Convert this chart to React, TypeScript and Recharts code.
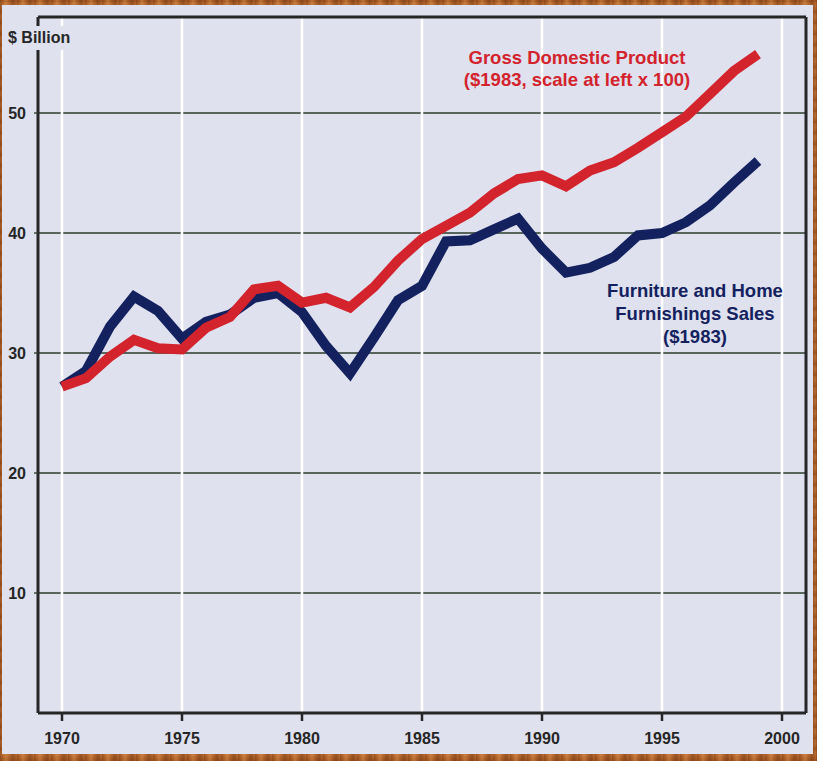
import React from "react";
import {
  LineChart,
  CartesianGrid,
  Line,
  XAxis,
  YAxis,
  ReferenceLine,
} from "recharts";

const years = [
  1970, 1971, 1972, 1973, 1974, 1975, 1976, 1977, 1978, 1979,
  1980, 1981, 1982, 1983, 1984, 1985, 1986, 1987, 1988, 1989,
  1990, 1991, 1992, 1993, 1994, 1995, 1996, 1997, 1998, 1999,
];
const furniture = [
  27.2, 28.5, 32.2, 34.7, 33.5, 31.2, 32.6, 33.2, 34.6, 35.0,
  33.4, 30.6, 28.3, 31.3, 34.4, 35.6, 39.3, 39.4, 40.3, 41.2,
  38.7, 36.7, 37.1, 38.0, 39.8, 40.0, 40.9, 42.3, 44.2, 46.0,
];
const gdp = [
  27.2, 27.9, 29.7, 31.1, 30.4, 30.3, 32.1, 33.0, 35.3, 35.6,
  34.2, 34.6, 33.8, 35.5, 37.7, 39.5, 40.6, 41.7, 43.3, 44.5,
  44.8, 43.9, 45.2, 45.9, 47.1, 48.4, 49.7, 51.6, 53.5, 54.9,
];
const xTicks = [1970, 1975, 1980, 1985, 1990, 1995, 2000];
const yTicks = [10, 20, 30, 40, 50];

const data = years.map((year, i) => ({ year, furniture: furniture[i], gdp: gdp[i] }));

const FONT = '"Liberation Sans", Arial, Helvetica, sans-serif';
const PANEL = "#dfe1ee";
const AXIS = "#262626";
const RED = "#d3232d";
const NAVY = "#14215f";

const wood =
  "repeating-linear-gradient(90deg, rgba(90,40,10,0.35) 0px, rgba(0,0,0,0) 3px, rgba(255,190,120,0.25) 6px, rgba(0,0,0,0) 9px, rgba(70,30,5,0.3) 13px, rgba(0,0,0,0) 17px), " +
  "repeating-linear-gradient(0deg, rgba(120,50,10,0.3) 0px, rgba(0,0,0,0) 4px, rgba(230,150,80,0.2) 7px, rgba(0,0,0,0) 11px), #b2642b";

export default function App() {
  const tickStyle = { fill: AXIS, fontSize: 16, fontWeight: 700, fontFamily: FONT };
  return (
    <div style={{ position: "absolute", left: 0, top: 0, width: 817, height: 761, background: wood, overflow: "hidden" }}>
      <div style={{ position: "absolute", left: 2, top: 5, width: 811, height: 749, background: PANEL }} />
      <div style={{ position: "absolute", left: 0, top: 0 }}>
        <LineChart width={817} height={761} data={data} margin={{ top: 17, right: 11, left: 0, bottom: 0 }}>
          <CartesianGrid vertical={false} stroke="#2b3b2b" strokeWidth={1.3} strokeOpacity={1} />
          {xTicks.map((t) => (
            <ReferenceLine key={t} x={t} stroke="#ffffff" strokeWidth={2.5} />
          ))}
          <ReferenceLine y={58} stroke={AXIS} strokeWidth={3} />
          <ReferenceLine x={2001} stroke={AXIS} strokeWidth={3} />
          <XAxis
            dataKey="year"
            type="number"
            domain={[1969, 2001]}
            ticks={xTicks}
            height={48}
            tickSize={8}
            tickMargin={12}
            axisLine={{ stroke: AXIS, strokeWidth: 3 }}
            tickLine={{ stroke: AXIS, strokeWidth: 2.5 }}
            tick={tickStyle}
          />
          <YAxis
            type="number"
            domain={[0, 58]}
            ticks={yTicks}
            width={38}
            tickSize={4}
            tickMargin={8}
            axisLine={{ stroke: AXIS, strokeWidth: 3 }}
            tickLine={{ stroke: "#2b3b2b", strokeWidth: 1.3 }}
            tick={tickStyle}
          />
          <Line
            type="linear"
            dataKey="furniture"
            stroke={NAVY}
            strokeWidth={10}
            dot={false}
            activeDot={false}
            isAnimationActive={false}
          />
          <Line
            type="linear"
            dataKey="gdp"
            stroke={RED}
            strokeWidth={10}
            dot={false}
            activeDot={false}
            isAnimationActive={false}
          />
        </LineChart>
      </div>
      <div
        style={{
          position: "absolute", left: 6, top: 26, height: 24, lineHeight: "24px", padding: "0 2px",
          background: PANEL, fontFamily: FONT, fontSize: 16, fontWeight: 700, color: AXIS,
        }}
      >
        $ Billion
      </div>
      <div
        style={{
          position: "absolute", left: 427, top: 47, width: 300, textAlign: "center",
          fontFamily: FONT, fontSize: 18.5, fontWeight: 700, lineHeight: "21.5px", color: RED,
        }}
      >
        Gross Domestic Product
        <br />
        ($1983, scale at left x 100)
      </div>
      <div
        style={{
          position: "absolute", left: 545, top: 279, width: 300, textAlign: "center",
          fontFamily: FONT, fontSize: 18.5, fontWeight: 700, lineHeight: "23px", color: NAVY,
        }}
      >
        Furniture and Home
        <br />
        Furnishings Sales
        <br />
        ($1983)
      </div>
    </div>
  );
}
